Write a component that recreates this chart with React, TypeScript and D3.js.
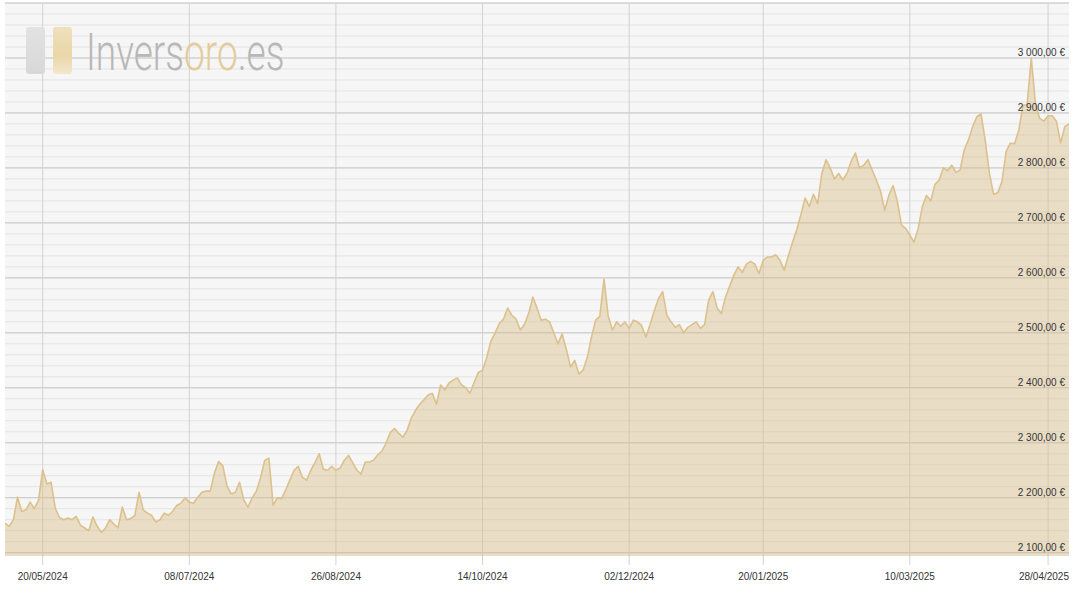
import { useMemo } from 'react';
import * as d3 from 'd3';

// gold price, EUR per ounce, one value per trading day (07/05/2024 .. 05/05/2025)
const prices = [
  2154, 2148, 2160, 2201, 2175, 2178, 2192, 2180, 2195, 2251,
  2225, 2228, 2181, 2164, 2160, 2163, 2160, 2166, 2150, 2145,
  2140, 2165, 2148, 2137, 2145, 2160, 2152, 2145, 2183, 2160,
  2162, 2168, 2210, 2178, 2172, 2168, 2156, 2160, 2172, 2168,
  2175, 2186, 2190, 2200, 2192, 2190, 2201, 2210, 2212, 2212,
  2245, 2266, 2258, 2221, 2207, 2210, 2228, 2196, 2183, 2200,
  2212, 2236, 2268, 2272, 2186, 2200, 2198, 2214, 2232, 2250,
  2257, 2237, 2232, 2250, 2264, 2280, 2252, 2250, 2257, 2250,
  2254, 2268, 2277, 2264, 2250, 2243, 2265, 2265, 2268, 2278,
  2285, 2300, 2319, 2326, 2317, 2310, 2323, 2345, 2359, 2370,
  2378, 2387, 2390, 2370, 2405, 2396, 2409, 2414, 2418, 2405,
  2400, 2390, 2410, 2428, 2432, 2455, 2485, 2500, 2517, 2525,
  2545, 2532, 2525, 2505, 2515, 2535, 2565, 2545, 2523, 2525,
  2520, 2500, 2480, 2498, 2470, 2438, 2450, 2425, 2432, 2455,
  2492, 2523, 2530, 2598, 2530, 2505, 2520, 2512, 2520, 2508,
  2523, 2520, 2513, 2492, 2515, 2540, 2562, 2575, 2532, 2520,
  2510, 2515, 2500, 2510, 2515, 2520, 2508, 2515, 2560, 2575,
  2545, 2535, 2565, 2585, 2605, 2620, 2610, 2625, 2630, 2625,
  2608, 2632, 2638, 2638, 2642, 2632, 2614, 2640, 2665, 2687,
  2715, 2745, 2730, 2752, 2735, 2790, 2815, 2800, 2780, 2790,
  2778, 2790, 2812, 2827, 2800, 2805, 2815, 2796, 2778, 2758,
  2723, 2750, 2768, 2740, 2696, 2690, 2678, 2665, 2690, 2730,
  2750, 2740, 2770, 2778, 2800, 2795, 2805, 2792, 2796, 2833,
  2851, 2875, 2893, 2898, 2850, 2790, 2752, 2755, 2775, 2830,
  2845, 2844, 2868, 2914, 2915, 3000, 2915, 2890, 2885, 2895,
  2895, 2885, 2845, 2875, 2880,
];

const startDate = '2024-05-07';
const holidays = ['2024-12-25', '2024-12-26', '2025-01-01', '2025-04-18', '2025-04-21'];
const tickLabels = [
  '20/05/2024', '08/07/2024', '26/08/2024', '14/10/2024',
  '02/12/2024', '20/01/2025', '10/03/2025', '28/04/2025',
];

const W = 1076;
const H = 594;
const plot = { left: 5, right: 1069, top: 3, bottom: 556 };
const fmtDay = d3.utcFormat('%d/%m/%Y');
const fmtKey = d3.utcFormat('%Y-%m-%d');

const euro = (v: number) =>
  d3.format(',.2f')(v).replace(/,/g, ' ').replace('.', ',') + ' €';

export default function App() {
  // trading days for every price
  const days = useMemo(() => {
    const out: Date[] = [];
    let d = new Date(startDate + 'T00:00:00Z');
    while (out.length < prices.length) {
      const wd = d.getUTCDay();
      if (wd !== 0 && wd !== 6 && !holidays.includes(fmtKey(d))) out.push(d);
      d = d3.utcDay.offset(d, 1);
    }
    return out.map(fmtDay);
  }, []);

  const x = d3.scaleLinear().domain([0, prices.length - 1]).range([plot.left, plot.right]);
  const y = d3.scaleLinear().domain([2094, 3100]).range([plot.bottom, plot.top]);

  const area = d3
    .area<number>()
    .x((_, i) => x(i))
    .y0(plot.bottom)
    .y1((d) => y(d));
  const line = d3
    .line<number>()
    .x((_, i) => x(i))
    .y((d) => y(d));

  const minor = d3.range(2100, 3101, 20);
  const major = d3.range(2100, 3101, 100);
  const labelled = major.filter((v) => v < 3100);
  const ticks = tickLabels.map((t) => ({ label: t, i: days.indexOf(t) })).filter((t) => t.i >= 0);

  return (
    <svg
      width={W}
      height={H}
      style={{ position: 'absolute', left: 0, top: 0, display: 'block', background: '#fff' }}
      fontFamily="Arial, 'Liberation Sans', sans-serif"
    >
      <defs>
        <clipPath id="plotClip">
          <rect x={plot.left} y={plot.top} width={plot.right - plot.left} height={plot.bottom - plot.top} />
        </clipPath>
        <linearGradient id="goldBar" x1="0" y1="0" x2="0" y2="1">
          <stop offset="0%" stopColor="#efe0bd" />
          <stop offset="60%" stopColor="#ead7a8" />
          <stop offset="100%" stopColor="#f3e7cc" />
        </linearGradient>
        <linearGradient id="greyBar" x1="0" y1="0" x2="0" y2="1">
          <stop offset="0%" stopColor="#e2e2e2" />
          <stop offset="100%" stopColor="#d8d8d8" />
        </linearGradient>
      </defs>

      <rect x={plot.left} y={plot.top} width={plot.right - plot.left} height={plot.bottom - plot.top} fill="#f6f6f6" />

      {/* grid */}
      {minor.map((v) => (
        <line key={'m' + v} x1={plot.left} x2={plot.right} y1={y(v)} y2={y(v)} stroke="#e4e4e4" strokeWidth={1} />
      ))}
      {major.map((v) => (
        <line key={'M' + v} x1={plot.left} x2={plot.right} y1={y(v)} y2={y(v)} stroke="#c8c8c8" strokeWidth={1} />
      ))}
      {ticks.map((t) => (
        <line key={'v' + t.label} x1={x(t.i)} x2={x(t.i)} y1={plot.top} y2={565} stroke="#d2d2d2" strokeWidth={1} />
      ))}

      {/* logo: thin condensed wordmark, stretched vertically */}
      <rect x={26} y={27} width={19} height={47} rx={3} fill="url(#greyBar)" />
      <rect x={53} y={27} width={19} height={47} rx={3} fill="url(#goldBar)" />
      <text
        transform="translate(86,70) scale(1,1.42)"
        fontFamily="Roboto, 'DejaVu Sans', sans-serif"
        fontWeight={300}
        fontSize={37}
        fill="#b8b8b8"
      >
        Invers<tspan fill="#e3cc9b">oro</tspan>.es
      </text>

      {/* price area */}
      <g clipPath="url(#plotClip)">
        <path d={area(prices) ?? ''} fill="#d6b97f" fillOpacity={0.4} />
        <path d={line(prices) ?? ''} fill="none" stroke="#dcc18c" strokeWidth={1.6} strokeLinejoin="round" />
      </g>

      {/* y labels */}
      {labelled.map((v) => (
        <text key={'t' + v} x={1065} y={y(v) - 2} textAnchor="end" fontSize={10} fill="#333">
          {euro(v)}
        </text>
      ))}

      {/* x labels */}
      {ticks.map((t) => {
        const cx = x(t.i);
        const atEnd = cx + 25 > plot.right;
        return (
          <text
            key={'x' + t.label}
            x={atEnd ? plot.right : cx}
            y={580}
            textAnchor={atEnd ? 'end' : 'middle'}
            fontSize={10}
            fill="#333"
          >
            {t.label}
          </text>
        );
      })}
    </svg>
  );
}
